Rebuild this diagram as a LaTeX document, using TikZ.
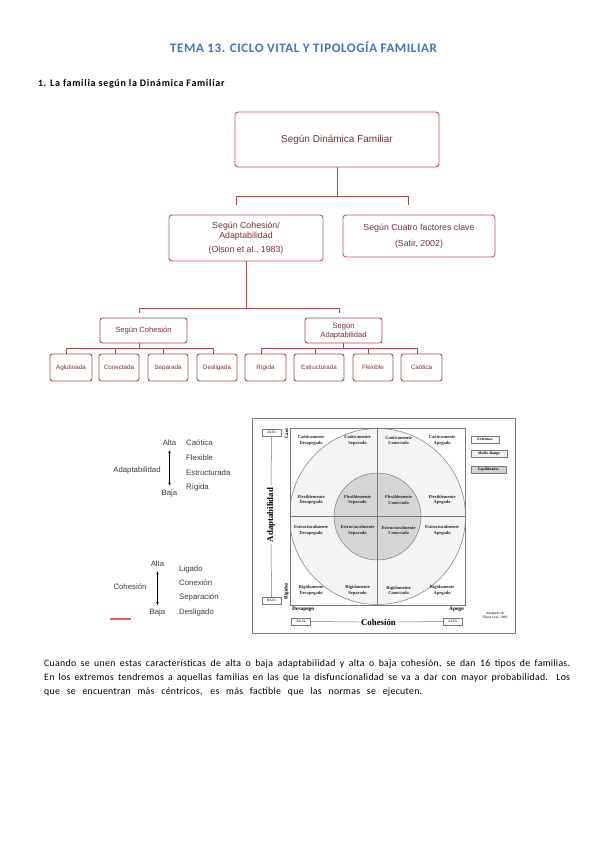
\documentclass[tikz,border=0pt]{standalone}
\usepackage{fontspec}
\setmainfont{Carlito}
\newfontfamily\arialf{Liberation Sans}
\newfontfamily\timesf{Liberation Serif}
\newfontfamily\bodyf[LetterSpace=3]{Carlito}
\newfontfamily\headf[LetterSpace=7]{Carlito}
\newfontfamily\titlef[LetterSpace=4.5]{Carlito}
\usetikzlibrary{arrows.meta}
\definecolor{titleblue}{RGB}{68,114,196}
\definecolor{treeRed}{RGB}{200,80,86}
\definecolor{treeRedD}{RGB}{165,72,76}
\definecolor{treeText}{RGB}{125,45,50}
\definecolor{legText}{RGB}{60,60,60}
\definecolor{legRed}{RGB}{232,90,90}
\definecolor{figGray}{RGB}{120,120,120}
\tikzset{
  tboxA/.style={draw=treeRed, line width=0.9pt, rounded corners=3pt, text=treeText, align=center, inner sep=0pt},
  tboxB/.style={draw=treeRedD, line width=0.9pt, rounded corners=2.5pt, text=treeText, align=center, inner sep=0pt},
  tline/.style={draw=treeRedD, line width=0.9pt},
  leaf/.style={tboxB, minimum height=27pt, font=\arialf\fontsize{6.3}{7.5}\selectfont},
  legt/.style={text=legText, font=\arialf\fontsize{7.8}{9}\selectfont, inner sep=1pt},
  legarrow/.style={draw=black, line width=0.5pt, {Latex[length=3pt,width=2.6pt]}-{Latex[length=3pt,width=2.6pt]}},
  cell/.style={align=center, font=\timesf\bfseries\fontsize{4.5}{5.6}\selectfont, inner sep=0pt, text=black!85},
  smallbox/.style={draw=figGray, line width=0.5pt, minimum width=19pt, minimum height=7pt, inner sep=0pt, font=\timesf\fontsize{3.6}{4}\selectfont},
  keybox/.style={draw=figGray, line width=0.6pt, minimum height=7pt, inner sep=0pt, font=\timesf\bfseries\fontsize{3.7}{4}\selectfont},
  axlab/.style={font=\timesf\bfseries\fontsize{8.8}{10}\selectfont, inner sep=1.5pt},
  sidelab/.style={font=\timesf\bfseries\fontsize{5}{6}\selectfont, inner sep=0pt},
  figline/.style={draw=figGray, line width=0.5pt},
  para/.style={anchor=base west, inner sep=0pt, font=\bodyf\fontsize{9.8}{11}\selectfont}
}
\begin{document}
\begin{tikzpicture}[x=1pt,y=-1pt]
\useasboundingbox (0,0) rectangle (599,848);
\fill[white] (0,0) rectangle (599,848);

% ---------- title and heading
\node[text=titleblue, font=\titlef\bfseries\fontsize{13}{15}\selectfont] (title) at (303.5,47) {TEMA 13. CICLO VITAL Y TIPOLOGÍA FAMILIAR};
\node[anchor=base west, font=\headf\bfseries\fontsize{9.6}{12}\selectfont, inner sep=0pt] (hnum) at (38,87) {1.};
\node[anchor=base west, font=\headf\bfseries\fontsize{10}{12}\selectfont, inner sep=0pt] (head) at (50,87) {La familia según la Dinámica Familiar};

% ---------- tree
\node[tboxA, minimum width=204pt, minimum height=55pt, font=\arialf\fontsize{10}{12}\selectfont] (top) at (337,139.5) {Según Dinámica Familiar};
\node[tboxA, minimum width=154pt, minimum height=46pt, font=\arialf\fontsize{8.8}{10.3}\selectfont] (olson) at (246,238) {Según Cohesión/\\Adaptabilidad\\[4pt](Olson et al., 1983)};
\node[tboxA, minimum width=152pt, minimum height=42pt, font=\arialf\fontsize{8.8}{16}\selectfont] (satir) at (419,236) {Según Cuatro factores clave\\(Satir, 2002)};

\node[tboxB, minimum width=87pt, minimum height=25pt, font=\arialf\fontsize{7.6}{9}\selectfont] (cohs) at (143.5,330.5) {Según Cohesión};
\node[tboxB, minimum width=77pt, minimum height=25pt, font=\arialf\fontsize{7.6}{9}\selectfont] (adap) at (343.5,330.5) {Según\\Adaptabilidad};

\node[leaf, minimum width=42pt] (agl) at (71,367.5) {Aglutinada};
\node[leaf, minimum width=40pt] (con) at (119,367.5) {Conectada};
\node[leaf, minimum width=40pt] (sep) at (168,367.5) {Separada};
\node[leaf, minimum width=40pt] (des) at (217,367.5) {Desligada};
\node[leaf, minimum width=41pt] (rig) at (265.5,367.5) {Rígida};
\node[leaf, minimum width=50pt] (est) at (319,367.5) {Estructurada};
\node[leaf, minimum width=40pt] (fle) at (373,367.5) {Flexible};
\node[leaf, minimum width=41pt] (cao) at (421.5,367.5) {Caótica};

% connectors level 1 -> 2
\coordinate (bar1) at (0,196);
\draw[tline] (top.south) -- (top.south |- bar1);
\draw[tline] ([xshift=-10pt]olson.north |- 0,205) -- ([xshift=-10pt]olson.north |- bar1) -- ([xshift=-11pt]satir.north |- bar1) -- ([xshift=-11pt]satir.north |- 0,205);
% level 2 -> 3
\coordinate (bar2) at (0,308);
\draw[tline] (olson.south) -- (olson.south |- bar2);
\draw[tline] ([xshift=-4.5pt]cohs.north |- 0,313) -- ([xshift=-4.5pt]cohs.north |- bar2) -- ([xshift=-4.5pt]adap.north |- bar2) -- ([xshift=-4.5pt]adap.north |- 0,313);
% level 3 -> 4 (cohesion)
\coordinate (bar3) at (0,348);
\draw[tline] ([xshift=-4.5pt]cohs.south) -- ([xshift=-4.5pt]cohs.south |- bar3);
\draw[tline] ([xshift=-5pt]agl.north |- bar3) -- ([xshift=-4pt]des.north |- bar3);
\foreach \n/\s in {agl/-5pt,con/-4pt,sep/-5pt,des/-4pt}{
  \draw[tline] ([xshift=\s]\n.north |- bar3) -- ([xshift=\s]\n.north);
}
% level 3 -> 4 (adaptabilidad)
\draw[tline] (adap.south) -- (adap.south |- bar3);
\draw[tline] ([xshift=-4.5pt]rig.north |- bar3) -- ([xshift=-4.5pt]cao.north |- bar3);
\foreach \n/\s in {rig/-4.5pt,est/-4pt,fle/-5pt,cao/-4.5pt}{
  \draw[tline] ([xshift=\s]\n.north |- bar3) -- ([xshift=\s]\n.north);
}

% ---------- left legend
\node[legt] (aAlta) at (169.5,443) {Alta};
\node[legt] (aBaja) at (169.5,493) {Baja};
\node[legt] (aLab) at (137,470) {Adaptabilidad};
\node[legt, anchor=west] (l1) at (185,443) {Caótica};
\node[legt, anchor=west] (l2) at (185,458) {Flexible};
\node[legt, anchor=west] (l3) at (185,472.5) {Estructurada};
\node[legt, anchor=west] (l4) at (185,487) {Rígida};
\draw[legarrow, shorten <=3pt, shorten >=2.5pt] (aAlta.south) -- (aBaja.north);

\node[legt] (cAlta) at (157.5,564) {Alta};
\node[legt] (cBaja) at (157.5,612) {Baja};
\node[legt] (cLab) at (130,587) {Cohesión};
\node[legt, anchor=west] (m1) at (178,569) {Ligado};
\node[legt, anchor=west] (m2) at (178,583) {Conexión};
\node[legt, anchor=west] (m3) at (178,597.5) {Separación};
\node[legt, anchor=west] (m4) at (178,612) {Desligado};
\draw[legarrow, shorten <=3pt, shorten >=2pt] (cAlta.south) -- (cBaja.north);
\draw[draw=legRed, line width=1.1pt] (110,619) -- (131,619);

% ---------- circumplex figure
\draw[draw=figGray, line width=1pt] (252,418) rectangle (515,633);
\begin{scope}
  \clip (290,428) rectangle (465,605);
  \fill[gray!9] (377.5,516.5) circle (88pt);
  \draw[figGray, line width=0.5pt] (377.5,516.5) circle (88pt);
\end{scope}
\fill[gray!33] (377.5,516.5) circle (43.5pt);
\draw[figGray, line width=0.5pt] (377.5,516.5) circle (43.5pt);
\draw[figline] (377.5,428) -- (377.5,605);
\draw[figline] (290,516.5) -- (465,516.5);
\draw[draw=figGray, line width=0.7pt] (290,428) rectangle (465,605);

\foreach \r/\y in {Caóticamente/440.5,Flexiblemente/500,Estructuralmente/530.5,Rígidamente/590.5}{
  \foreach \c/\x in {Desapegado/311,Separado/357.5,Conectado/398.5,Apegado/442}{
    \node[cell] at (\x,\y) {\r\\\c};
  }
}

% left axis
\node[smallbox] (lalta) at (271.5,432.5) {ALTA};
\node[smallbox] (lbaja) at (271.5,600.5) {BAJA};
\node[axlab, rotate=90] (adlab) at (271,515) {Adaptabilidad};
\draw[figline] (lalta.south) -- (adlab.east);
\draw[figline] (adlab.west) -- (lbaja.north);
\node[sidelab, rotate=90] (caos) at (286.5,433.5) {Caos};
\node[sidelab, rotate=90] (rigz) at (286.5,591) {Rigidez};

% bottom axis
\node[sidelab, anchor=west, font=\timesf\bfseries\fontsize{5.4}{6}\selectfont] (desap) at (292,609.5) {Desapego};
\node[sidelab, anchor=east, font=\timesf\bfseries\fontsize{5.4}{6}\selectfont] (apego) at (464,609.5) {Apego};
\node[smallbox] (bbaja) at (301,621.5) {BAJA};
\node[smallbox] (balta) at (452.5,621.5) {ALTA};
\node[axlab] (cohlab) at (378.5,622) {Cohesión};
\draw[figline] (bbaja.east) -- (cohlab.west);
\draw[figline] (cohlab.east) -- (balta.west);
\node[align=center, font=\timesf\fontsize{3.6}{4.6}\selectfont, inner sep=0pt] (adapt) at (495,615.5) {Adaptado de\\Olson et al, 1989};

% key
\node[keybox, minimum width=28pt, fill=white] (k1) at (485,439.5) {Extremos};
\node[keybox, minimum width=36pt, fill=gray!12] (k2) at (489,454) {Medio-Rango};
\node[keybox, minimum width=35pt, fill=gray!35] (k3) at (488.5,469.5) {Equilibrados};

% ---------- paragraph
\node[para] (p1) at (44,666) {\makebox[526pt][s]{Cuando se unen estas características de alta o baja adaptabilidad y alta o baja cohesión, se dan 16 tipos de familias.}};
\node[para] (p2) at (44,680) {\makebox[526pt][s]{En los extremos tendremos a aquellas familias en las que la disfuncionalidad se va a dar con mayor probabilidad. Los}};
\node[para] (p3) at (44,694) {\makebox[378pt][s]{que se encuentran más céntricos, es más factible que las normas se ejecuten.}};
\end{tikzpicture}
\end{document}
